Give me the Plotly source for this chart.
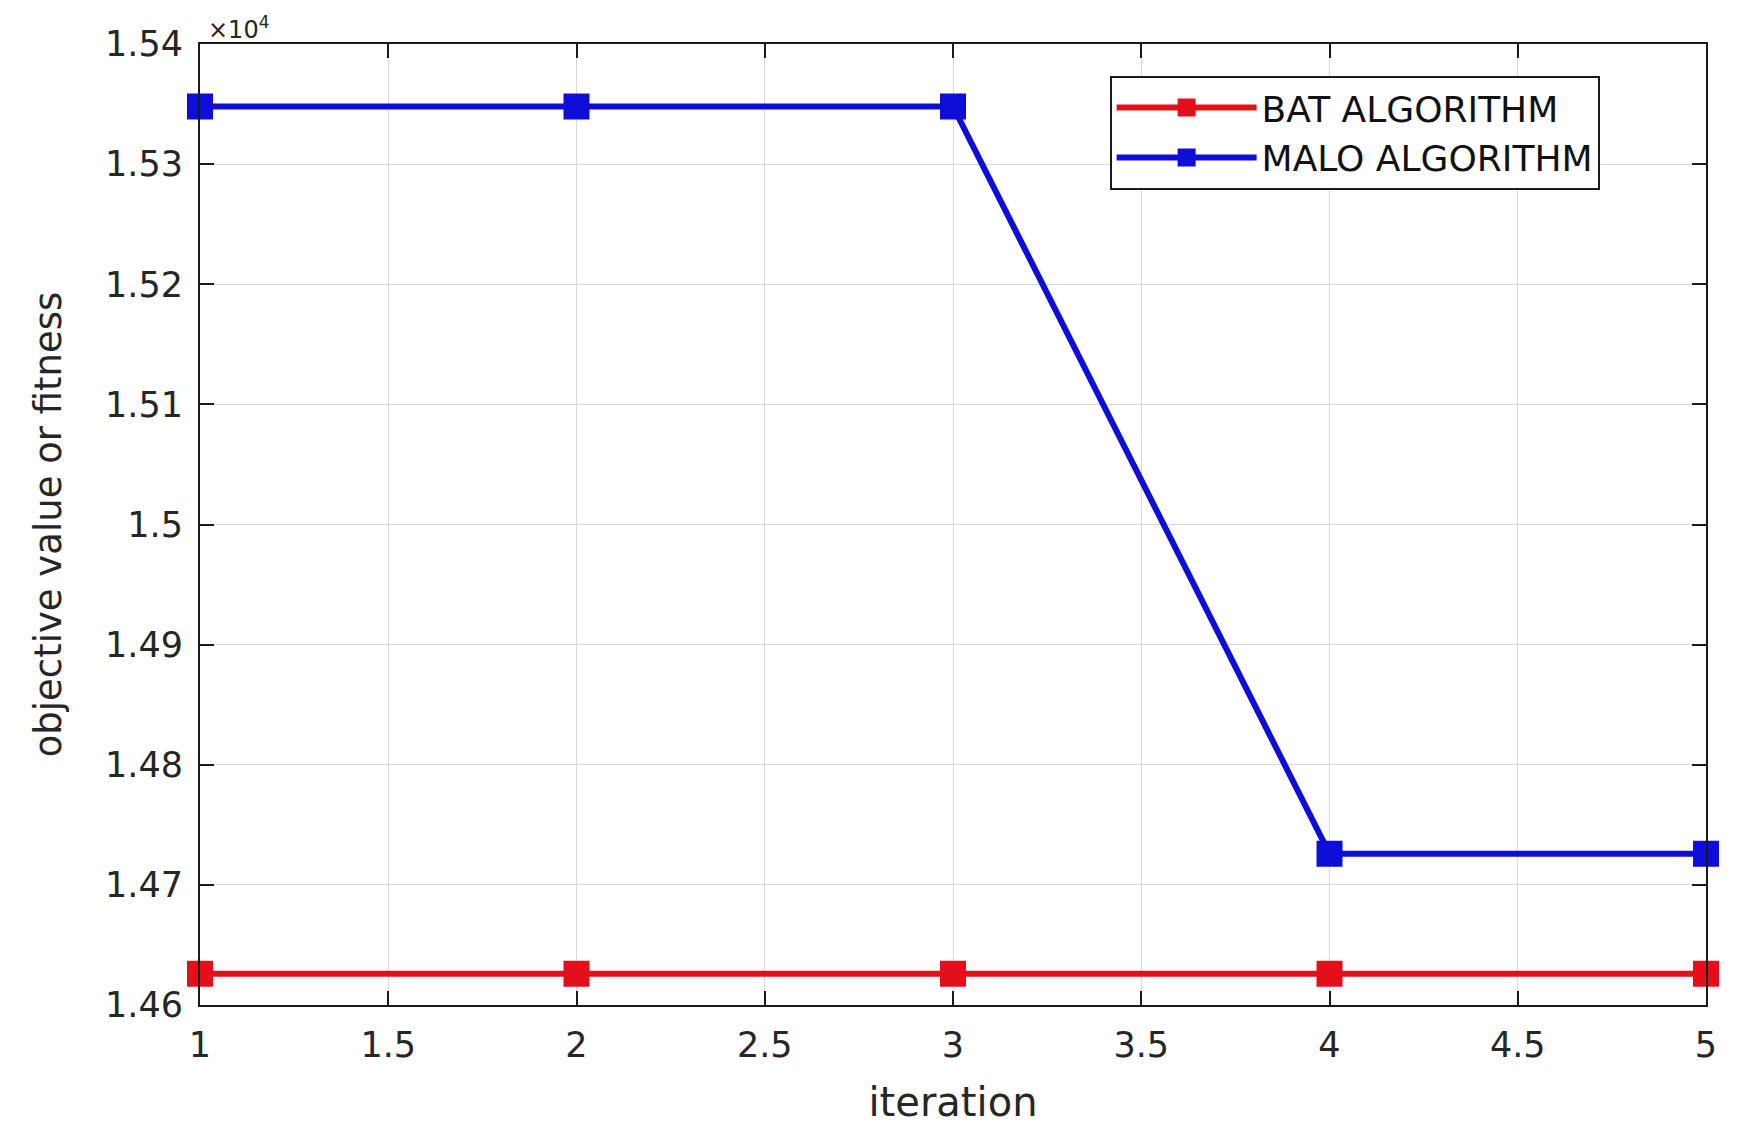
""" Convergence plot: BAT vs MALO """
import plotly.graph_objects as go

iterations = [1, 2, 3, 4, 5]
bat_fitness = [1.4626, 1.4626, 1.4626, 1.4626, 1.4626]
malo_fitness = [1.5348, 1.5348, 1.5348, 1.4726, 1.4726]

x_ticks = [1, 1.5, 2, 2.5, 3, 3.5, 4, 4.5, 5]
y_ticks = [1.46, 1.47, 1.48, 1.49, 1.5, 1.51, 1.52, 1.53, 1.54]
y_labels = ["1.46", "1.47", "1.48", "1.49", "1.5", "1.51", "1.52", "1.53", "1.54"]

RED = "#e3101c"
BLUE = "#0e0ed8"
FONT = "DejaVu Sans, Liberation Sans, sans-serif"
TEXT = "#262626"

fig = go.Figure()
for name, values, color in [
    ("BAT ALGORITHM", bat_fitness, RED),
    ("MALO ALGORITHM", malo_fitness, BLUE),
]:
    fig.add_trace(
        go.Scatter(
            x=iterations,
            y=values,
            mode="lines+markers",
            name=name,
            line={"color": color, "width": 6},
            marker={
                "symbol": "square",
                "size": 24,
                "color": color,
                "line": {"color": color, "width": 2},
            },
            cliponaxis=False,
        )
    )

axis_common = dict(
    showline=True,
    linecolor="#1a1a1a",
    linewidth=2,
    mirror="ticks",
    ticks="inside",
    ticklen=14,
    tickwidth=2,
    tickcolor="#1a1a1a",
    showgrid=True,
    gridcolor="#d8d8d8",
    gridwidth=1,
    zeroline=False,
    ticklabelstandoff=8,
    tickfont={"family": FONT, "size": 35, "color": TEXT},
)

fig.update_xaxes(
    range=[1, 5],
    tickvals=x_ticks,
    ticktext=[f"{v:g}" for v in x_ticks],
    title={"text": "iteration", "font": {"family": FONT, "size": 40, "color": TEXT},
           "standoff": 24},
    **axis_common,
)
fig.update_yaxes(
    range=[1.46, 1.54],
    tickvals=y_ticks,
    ticktext=y_labels,
    title={"text": "objective value or fitness",
           "font": {"family": FONT, "size": 37, "color": TEXT}, "standoff": 32},
    **axis_common,
)

# exponent label above the axis
fig.add_annotation(
    text="×10<sup>4</sup>", xref="paper", yref="paper", x=0.004, y=1.0,
    xanchor="left", yanchor="bottom", yshift=-2, showarrow=False,
    font={"family": FONT, "size": 24, "color": TEXT},
)

# page body adds an 8px offset, so the figure is a little smaller than the window
fig.update_layout(
    width=1735,
    height=1123,
    margin={"l": 192, "r": 37, "t": 36, "b": 126},
    plot_bgcolor="white",
    paper_bgcolor="white",
    font={"family": FONT},
    legend={
        "x": 0.604, "y": 0.967, "xanchor": "left", "yanchor": "top",
        "bgcolor": "white", "bordercolor": "#1a1a1a", "borderwidth": 2,
        "font": {"family": FONT, "size": 36, "color": "#111111"},
        "itemwidth": 140, "tracegroupgap": 0,
    },
    showlegend=True,
)

fig.write_html("out.html")
